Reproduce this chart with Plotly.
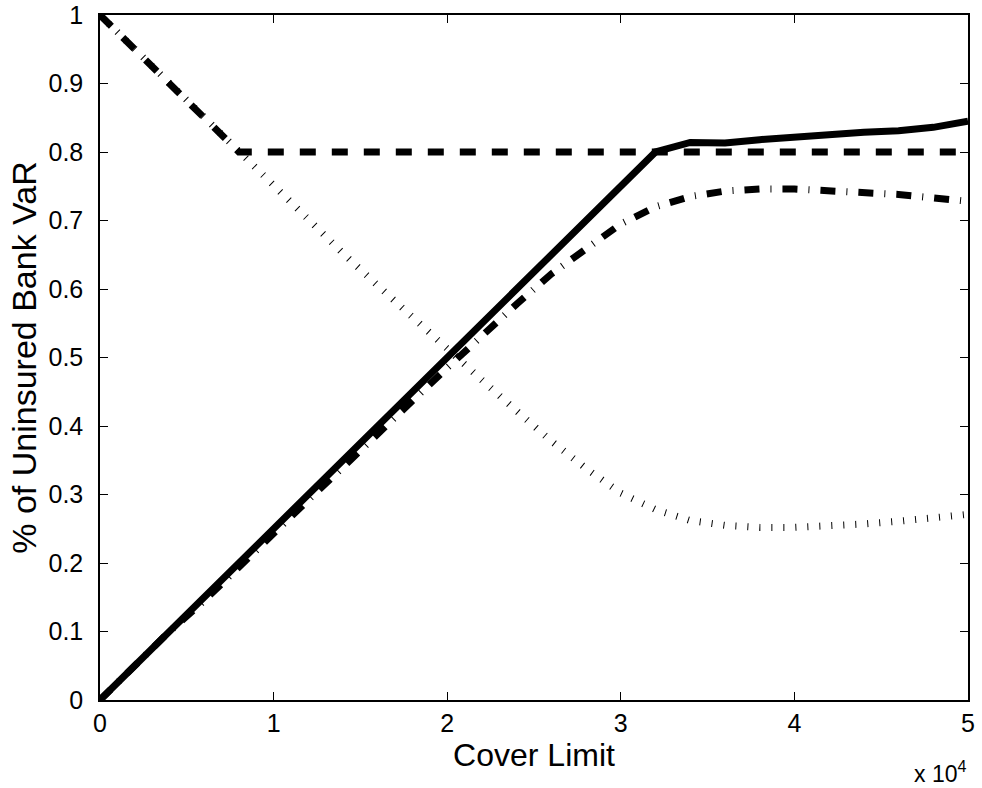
import plotly.graph_objects as go

cover = [0, 2000, 4000, 6000, 8000, 10000, 12000, 14000, 16000, 18000, 20000,
         22000, 24000, 26000, 28000, 30000, 32000, 34000, 36000, 38000, 40000,
         42000, 44000, 46000, 48000, 50000]

solid_vals = [0.0, 0.05, 0.10, 0.15, 0.20, 0.25, 0.30, 0.35, 0.40, 0.45, 0.50,
              0.55, 0.60, 0.65, 0.70, 0.75, 0.80, 0.814, 0.813, 0.818, 0.822,
              0.826, 0.829, 0.831, 0.836, 0.845]

dashed_x = [0, 8000, 50000]
dashed_vals = [1.0, 0.80, 0.80]

dashdot_vals = [0.0, 0.05, 0.10, 0.145, 0.195, 0.243, 0.292, 0.34, 0.39, 0.437, 0.485,
                0.532, 0.578, 0.622, 0.66, 0.695, 0.72, 0.735, 0.743, 0.746, 0.746,
                0.744, 0.741, 0.738, 0.733, 0.728]

dotted_vals = [1.0, 0.95, 0.90, 0.85, 0.80, 0.75, 0.70, 0.652, 0.605, 0.558, 0.512,
               0.467, 0.422, 0.378, 0.338, 0.302, 0.278, 0.262, 0.255, 0.252, 0.252,
               0.254, 0.257, 0.261, 0.266, 0.271]

x_tickvals = [0, 10000, 20000, 30000, 40000, 50000]
x_ticktext = ["0", "1", "2", "3", "4", "5"]
y_tickvals = [0, 0.1, 0.2, 0.3, 0.4, 0.5, 0.6, 0.7, 0.8, 0.9, 1.0]
y_ticktext = ["0", "0.1", "0.2", "0.3", "0.4", "0.5", "0.6", "0.7", "0.8", "0.9", "1"]

FONT = "Liberation Sans, Arial, Helvetica, sans-serif"

fig = go.Figure()
fig.add_trace(go.Scatter(x=cover, y=dotted_vals, mode="lines",
                         line=dict(color="black", width=7, dash="1px,11px")))
fig.add_trace(go.Scatter(x=cover, y=dashdot_vals, mode="lines",
                         line=dict(color="black", width=7, dash="15px,11px,1px,11px")))
fig.add_trace(go.Scatter(x=dashed_x, y=dashed_vals, mode="lines",
                         line=dict(color="black", width=7, dash="16px,16px")))
fig.add_trace(go.Scatter(x=cover, y=solid_vals, mode="lines",
                         line=dict(color="black", width=7)))

fig.update_layout(
    width=982, height=788,
    margin=dict(l=100, r=14, t=15, b=88, autoexpand=False),
    paper_bgcolor="white", plot_bgcolor="white",
    showlegend=False,
    font=dict(family=FONT, color="black", size=22),
)
fig.update_xaxes(
    range=[0, 50000], tickvals=x_tickvals, ticktext=x_ticktext, automargin=False,
    showgrid=False, zeroline=False, showline=True, linecolor="black", linewidth=1.5,
    mirror="ticks", ticks="inside", ticklen=8, tickcolor="black", tickwidth=1,
    tickfont=dict(size=25),
    title=dict(text="Cover Limit", font=dict(size=32), standoff=2),
)
fig.update_yaxes(
    range=[0, 1], tickvals=y_tickvals, ticktext=y_ticktext, automargin=False,
    showgrid=False, zeroline=False, showline=True, linecolor="black", linewidth=1.5,
    mirror="ticks", ticks="inside", ticklen=8, tickcolor="black", tickwidth=1,
    tickfont=dict(size=25), ticklabelstandoff=10,
    title=dict(text="% of Uninsured Bank VaR", font=dict(size=34), standoff=2),
)
fig.add_annotation(
    x=1.0, y=0, xref="paper", yref="paper", xanchor="right", yanchor="top",
    yshift=-55, showarrow=False,
    text="x 10<sup>4</sup>", font=dict(size=23, family=FONT),
)

fig.write_html("out.html", config={"displayModeBar": False})

with open("out.html", "r", encoding="utf-8") as f:
    html = f.read()
html = html.replace("<head>", "<head><style>html,body{margin:0;padding:0;}</style>", 1)
with open("out.html", "w", encoding="utf-8") as f:
    f.write(html)
